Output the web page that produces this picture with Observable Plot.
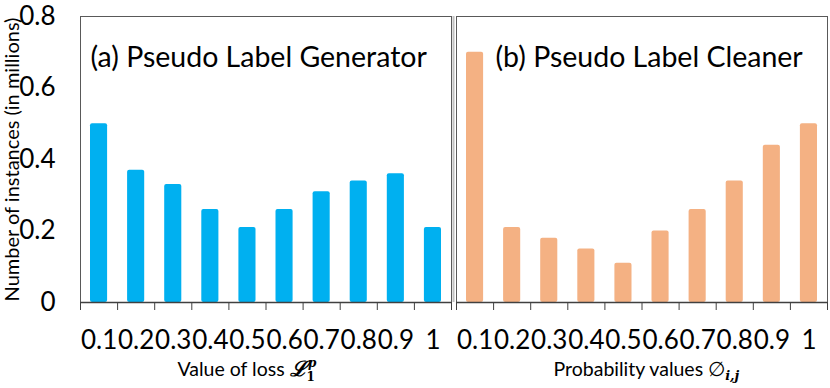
<!DOCTYPE html>
<html>
<head>
<meta charset="utf-8">
<script src="https://cdn.jsdelivr.net/npm/d3@7"></script>
<script src="https://cdn.jsdelivr.net/npm/@observablehq/plot@0.6"></script>
<style>
  html, body { margin: 0; padding: 0; background: #fff; }
  #chart { width: 830px; height: 388px; }
</style>
</head>
<body>
<div id="chart"></div>
<script>
// ---- data ----
const bins = ["0.1", "0.2", "0.3", "0.4", "0.5", "0.6", "0.7", "0.8", "0.9", "1"];
const generatorCounts = [0.50, 0.37, 0.33, 0.26, 0.21, 0.26, 0.31, 0.34, 0.36, 0.21];
const cleanerCounts   = [0.70, 0.21, 0.18, 0.15, 0.11, 0.20, 0.26, 0.34, 0.44, 0.50];
const panelTitles = ["(a) Pseudo Label Generator", "(b) Pseudo Label Cleaner"];
const xTitles = ["Value of loss", "Probability values"];
const yTicks = [0, 0.2, 0.4, 0.6, 0.8];
const yTitle = "Number of instances (in millions)";
const barColors = ["#00B0F0", "#F4B183"];

// ---- derived tables ----
const seriesByPanel = [generatorCounts, cleanerCounts];
const rows = panelTitles.flatMap((panel, p) =>
  bins.map((b, i) => ({panel, hi: +b, lo: +b - 0.1, value: seriesByPanel[p][i]}))
);
const boundaries = [0, ...bins.map(Number)];
const centers = bins.map(b => +b - 0.05);
const labelByCenter = new Map(centers.map((c, i) => [c, bins[i]]));
const xTitleRows = panelTitles.map((panel, i) => ({panel, t: xTitles[i]}));
const xMax = boundaries[boundaries.length - 1];

const chart = Plot.plot({
  width: 830,
  height: 388,
  marginTop: 16,
  marginBottom: 86,
  marginLeft: 80,
  marginRight: 3,
  style: {fontFamily: "Lato, 'Open Sans', sans-serif", color: "#000", background: "#fff"},
  fx: {domain: panelTitles, paddingInner: 5 / 376, paddingOuter: 0, axis: null, label: null},
  x: {domain: [0, xMax], axis: null},
  y: {domain: [0, 0.8], axis: null},
  color: {domain: panelTitles, range: barColors},
  marks: [
    Plot.rectY(rows, {fx: "panel", x1: "lo", x2: "hi", y: "value", fill: "panel",
                      insetLeft: 10, insetRight: 10, rx: 2}),
    Plot.ruleX([{panel: panelTitles[0], x: xMax}], {fx: "panel", x: "x", dx: 2,
                      stroke: "#c0c0c0", strokeWidth: 2}),
    Plot.frame({stroke: "#595959"}),
    Plot.ruleY([0], {stroke: "#404040", strokeWidth: 1.5}),
    Plot.axisX(boundaries, {tickSize: 8, tickFormat: () => "", stroke: "#404040", label: null}),
    Plot.axisX(centers, {tickSize: 0, tickPadding: 28, fontSize: 26,
                         tickFormat: d => labelByCenter.get(d), label: null}),
    Plot.axisY(yTicks, {tickSize: 0, tickPadding: 25, fontSize: 26,
                        tickFormat: d => String(d), label: null}),
    Plot.text([{panel: panelTitles[0], t: yTitle}], {fx: "panel", text: "t", frameAnchor: "left",
                        textAnchor: "middle", lineAnchor: "middle",
                        rotate: -90, dx: -68, fontSize: 20, fill: "#000"}),
    Plot.text([panelTitles[0]], {fx: d => d, text: d => d, frameAnchor: "top-left",
                        textAnchor: "start", lineAnchor: "middle", dx: 10, dy: 41, fontSize: 28.5, fill: "#000"}),
    Plot.text([panelTitles[1]], {fx: d => d, text: d => d, frameAnchor: "top-left",
                        textAnchor: "start", lineAnchor: "middle", dx: 39, dy: 41, fontSize: 28.5, fill: "#000"}),
    Plot.text(xTitleRows, {fx: "panel", text: "t", frameAnchor: "bottom-left", textAnchor: "start",
                        lineAnchor: "middle", dx: 97, dy: 67, fontSize: 19.5, fill: "#000"})
  ]
});

document.getElementById("chart").appendChild(chart);

// ---- math decorations on the axis titles ----
const mathFont = "'DejaVu Serif', 'Liberation Serif', serif";
d3.select(chart).selectAll("text").each(function () {
  const t = d3.select(this);
  const s = this.textContent;
  if (s === xTitles[0]) {
    t.append("tspan").text(" ");
    t.append("tspan").attr("font-family", mathFont).attr("font-weight", "bold")
      .attr("font-style", "italic").attr("font-size", 21).text("ℒ");
    t.append("tspan").attr("font-family", mathFont).attr("font-weight", "bold")
      .attr("font-size", 12).attr("dy", 5).text("1");
    t.append("tspan").attr("font-family", mathFont).attr("font-weight", "bold")
      .attr("font-style", "italic").attr("font-size", 12).attr("dx", -7).attr("dy", -14).text("p");
  } else if (s === xTitles[1]) {
    t.append("tspan").text(" ∅");
    t.append("tspan").attr("font-family", mathFont).attr("font-weight", "bold")
      .attr("font-style", "italic").attr("font-size", 13).attr("dy", 4).text("i,j");
  }
});
</script>
</body>
</html>
